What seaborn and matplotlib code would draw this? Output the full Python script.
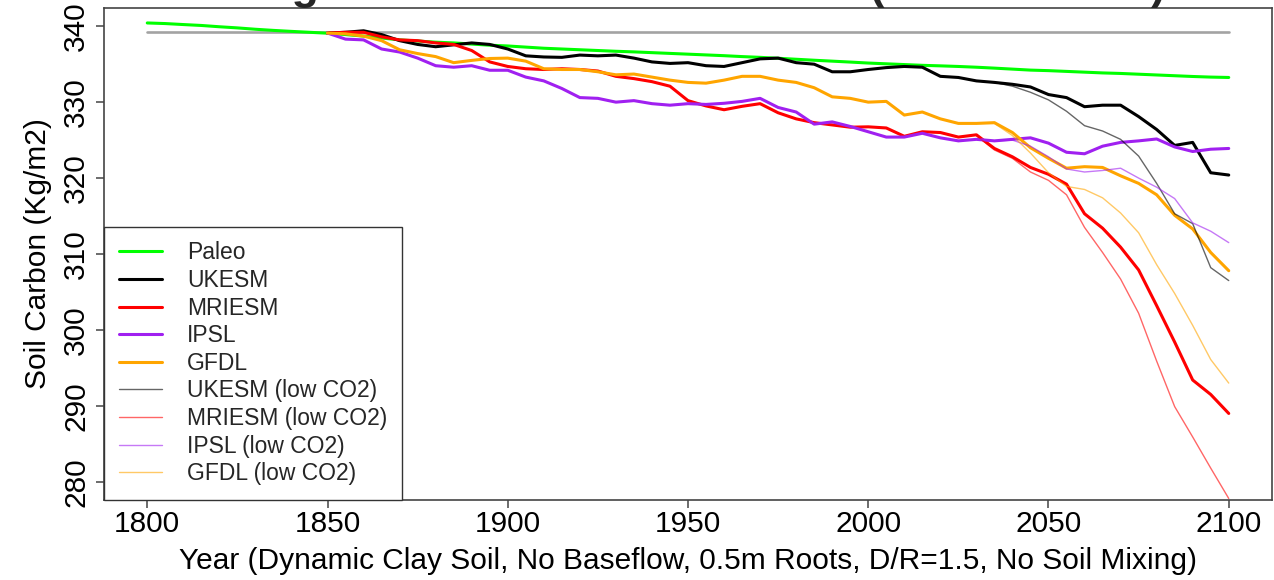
import matplotlib
matplotlib.use("Agg")
import matplotlib.pyplot as plt
import numpy as np
import pandas as pd
import seaborn as sns

# ---- data -----------------------------------------------------------------
years_paleo = np.arange(1800, 2101, 5)
years_model = np.arange(1850, 2101, 5)
years_low = np.arange(2030, 2101, 5)

paleo = [
    340.43, 340.35, 340.22, 340.10, 339.93, 339.78, 339.60, 339.45, 339.32, 339.20,
    339.08, 338.90, 338.70, 338.45, 338.20, 338.05, 337.90, 337.80, 337.65, 337.50,
    337.40, 337.25, 337.10, 337.00, 336.90, 336.80, 336.70, 336.62, 336.52, 336.42,
    336.32, 336.22, 336.12, 336.00, 335.90, 335.78, 335.65, 335.52, 335.40, 335.28,
    335.15, 335.05, 334.95, 334.85, 334.78, 334.70, 334.60, 334.48, 334.35, 334.22,
    334.15, 334.05, 333.95, 333.85, 333.78, 333.68, 333.58, 333.48, 333.38, 333.30,
    333.25,
]

ukesm = [
    339.1, 339.2, 339.4, 338.9, 338.1, 337.6, 337.3, 337.55, 337.8, 337.6,
    337.0, 336.1, 335.95, 335.9, 336.2, 336.1, 336.2, 335.8, 335.3, 335.1,
    335.2, 334.8, 334.7, 335.2, 335.7, 335.8, 335.2, 335.0, 334.0, 334.0,
    334.3, 334.55, 334.7, 334.6, 333.4, 333.25, 332.8, 332.6, 332.35, 332.0,
    331.0, 330.6, 329.4, 329.6, 329.6, 328.1, 326.4, 324.3, 324.7, 320.7,
    320.4,
]

mriesm = [
    339.1, 339.2, 339.2, 338.6, 338.2, 338.1, 337.8, 337.6, 336.8, 335.3,
    334.7, 334.4, 334.3, 334.4, 334.3, 334.1, 333.4, 333.1, 332.7, 332.1,
    330.2, 329.5, 329.0, 329.45, 329.8, 328.6, 327.8, 327.3, 327.0, 326.7,
    326.75, 326.6, 325.5, 326.1, 326.0, 325.4, 325.7, 323.9, 322.8, 321.4,
    320.5, 319.2, 315.3, 313.4, 310.9, 307.9, 303.2, 298.4, 293.4, 291.5,
    289.0,
]

ipsl = [
    339.1, 338.3, 338.2, 337.0, 336.6, 335.8, 334.8, 334.6, 334.8, 334.2,
    334.2, 333.3, 332.8, 331.8, 330.6, 330.5, 330.0, 330.2, 329.8, 329.6,
    329.8, 329.7, 329.85, 330.1, 330.5, 329.3, 328.7, 327.1, 327.4, 326.8,
    326.1, 325.4, 325.4, 325.9, 325.3, 324.9, 325.1, 324.9, 325.1, 325.3,
    324.6, 323.4, 323.2, 324.2, 324.7, 324.9, 325.15, 324.1, 323.5, 323.8,
    323.9,
]

gfdl = [
    339.1, 339.0, 338.7, 338.1, 336.9, 336.4, 336.0, 335.2, 335.5, 335.75,
    335.8, 335.4, 334.4, 334.3, 334.3, 334.0, 333.6, 333.7, 333.3, 332.9,
    332.6, 332.5, 332.9, 333.4, 333.4, 332.9, 332.6, 331.9, 330.7, 330.5,
    330.0, 330.1, 328.3, 328.7, 327.8, 327.2, 327.2, 327.3, 326.0, 324.0,
    322.6, 321.3, 321.5, 321.4, 320.3, 319.3, 317.8, 315.1, 313.3, 310.2,
    307.8,
]

ukesm_low = [332.8, 332.6, 332.1, 331.3, 330.3, 328.8, 326.9, 326.2,
             325.1, 322.9, 319.3, 315.3, 314.0, 308.2, 306.5]
mriesm_low = [325.6, 323.7, 322.6, 320.8, 319.7, 317.8, 313.5, 310.2,
              306.7, 302.2, 295.9, 289.9, 285.9, 281.8, 277.8]
ipsl_low = [325.1, 324.9, 325.0, 324.2, 322.8, 321.2, 320.8, 321.0,
            321.3, 320.0, 318.8, 317.3, 314.1, 313.0, 311.5]
gfdl_low = [327.2, 327.2, 325.6, 323.3, 320.7, 318.9, 318.5, 317.4,
            315.4, 312.8, 308.6, 304.8, 300.6, 296.1, 293.0]

baseline_years = [1800, 2100]
baseline_value = 339.2

x_ticks = [1800, 1850, 1900, 1950, 2000, 2050, 2100]
y_ticks = [280, 290, 300, 310, 320, 330, 340]

title = "Long Term Soil Carbon Stocks (Wetland Site)"
x_label = "Year (Dynamic Clay Soil, No Baseflow, 0.5m Roots, D/R=1.5, No Soil Mixing)"
y_label = "Soil Carbon (Kg/m2)"

# ---- style ----------------------------------------------------------------
sns.set_theme(style="white")
plt.rcParams["font.family"] = ["Liberation Sans", "DejaVu Sans"]

W, H = 1274, 580
fig = plt.figure(figsize=(W / 100, H / 100), dpi=100)
ax = fig.add_axes([104 / W, 80 / H, 1168 / W, 492 / H])

THICK, THIN = 2.2, 1.0
frame_col = "#444444"

# reference level
sns.lineplot(x=baseline_years, y=[baseline_value] * len(baseline_years),
             color="#a3a3a3", linewidth=1.9, ax=ax, legend=False)

main = [
    ("Paleo", years_paleo, paleo, "#00ff00"),
    ("UKESM", years_model, ukesm, "black"),
    ("MRIESM", years_model, mriesm, "red"),
    ("IPSL", years_model, ipsl, "#a020f0"),
    ("GFDL", years_model, gfdl, "orange"),
]
low = [
    ("UKESM (low CO2)", years_low, ukesm_low, "black"),
    ("MRIESM (low CO2)", years_low, mriesm_low, "red"),
    ("IPSL (low CO2)", years_low, ipsl_low, "#a020f0"),
    ("GFDL (low CO2)", years_low, gfdl_low, "orange"),
]

handles, labels = [], []
for name, yrs, vals, col in main:
    df = pd.DataFrame({"year": yrs, "carbon": vals})
    sns.lineplot(data=df, x="year", y="carbon", color=col, linewidth=THICK,
                 ax=ax, legend=False)
    handles.append(ax.lines[-1])
    labels.append(name)
for name, yrs, vals, col in low:
    df = pd.DataFrame({"year": yrs, "carbon": vals})
    sns.lineplot(data=df, x="year", y="carbon", color=col, linewidth=THIN,
                 alpha=0.6, ax=ax, legend=False)
    handles.append(ax.lines[-1])
    labels.append(name)

ax.set_xlim(1788, 2112)
ax.set_ylim(277.6, 342.4)
ax.set_xticks(x_ticks)
ax.set_yticks(y_ticks)

for sp in ax.spines.values():
    sp.set_visible(True)
    sp.set_color(frame_col)
    sp.set_linewidth(1.2)

ax.tick_params(axis="both", which="major", direction="out", length=6,
               width=1.1, color=frame_col, labelsize=21.5, labelcolor="black",
               bottom=True, left=True)
ax.tick_params(axis="x", pad=1)
ax.tick_params(axis="y", pad=4)
for lab in ax.get_yticklabels():
    lab.set_rotation(90)
    lab.set_va("center")

ax.set_xlabel(x_label, fontsize=21.5, color="black")
ax.set_ylabel(y_label, fontsize=21.5, color="black")
ax.xaxis.set_label_coords(0.5, -0.096)
ax.yaxis.set_label_coords(-0.0445, 0.5)

leg = ax.legend(handles, labels, loc="lower left", bbox_to_anchor=(0, 0),
                borderaxespad=0, frameon=True, fancybox=False, framealpha=1,
                edgecolor="#333333", fontsize=16.5, handlelength=1.87,
                handletextpad=1.1, borderpad=0.65, labelspacing=0.2)
leg.get_frame().set_linewidth(1.0)

fig.text((104 + 1272) / 2 / W, 1 + 1 / H, title, ha="center", va="baseline",
         fontsize=32, fontweight="bold")

fig.savefig("out.png", dpi=100, facecolor="white")
